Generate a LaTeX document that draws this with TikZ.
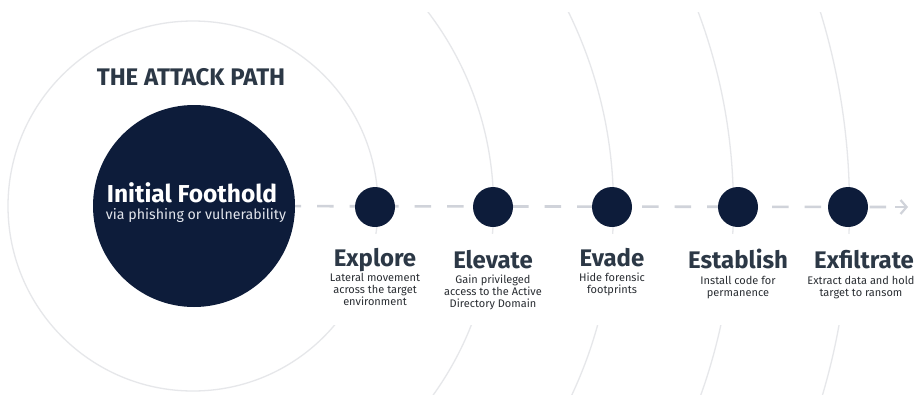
\documentclass[tikz,border=0pt]{standalone}
\usepackage{fontspec}
\setmainfont{Fira Sans}
\usetikzlibrary{arrows.meta,backgrounds}
\definecolor{navy}{HTML}{0D1C3A}
\definecolor{slate}{HTML}{2C3846}
\definecolor{arcgray}{HTML}{E6E7EA}
\definecolor{dashgray}{HTML}{D0D3DA}
\definecolor{desccol}{HTML}{2A2E33}
\definecolor{subcol}{HTML}{E2E5EC}
\tikzset{
  arcline/.style={draw=arcgray, line width=1.3pt},
  flowdash/.style={draw=dashgray, line width=2.6pt, dash pattern=on 16.5pt off 16pt, dash phase=7pt},
  flowarrow/.style={draw=dashgray, line width=2.6pt, -{Straight Barb[length=6pt,width=14pt,line width=2.2pt]}},
  stepdot/.style={circle, fill=navy, minimum size=40pt, inner sep=0pt},
  bigdot/.style={circle, fill=navy, minimum size=202pt, inner sep=0pt},
  steptitle/.style={anchor=base, text=slate, font=\fontsize{24}{28}\selectfont\bfseries, inner sep=0pt},
  stepdesc/.style={anchor=base, text=desccol, align=center, font=\fontsize{11}{12}\selectfont, inner sep=0pt},
  headtitle/.style={anchor=base, text=slate, font=\fontsize{24}{28}\selectfont\bfseries, inner sep=0pt},
  foottitle/.style={anchor=base, text=white, font=\fontsize{24.5}{28}\selectfont\bfseries, inner sep=0pt},
  footsub/.style={anchor=base, text=subcol, font=\fontsize{14.2}{16}\selectfont, inner sep=0pt},
}
\begin{document}
\begin{tikzpicture}[x=1pt,y=-1pt]
\useasboundingbox (0,0) rectangle (916,394);
% nodes
\node[bigdot] (foot) at (194,206) {};
\node[stepdot] (s1) at (375,207) {};
\node[stepdot] (s2) at (493,207) {};
\node[stepdot] (s3) at (612,207) {};
\node[stepdot] (s4) at (738,207) {};
\node[stepdot] (s5) at (848,207) {};
\coordinate (lineend) at (886,207);
\coordinate (arrstart) at (895,207);
\coordinate (arrtip) at (908,207);
\begin{pgfonlayer}{background}
\fill[white] (0,0) rectangle (916,394);
\begin{scope}
\clip (0,12) rectangle (916,394);
\draw[arcline] (193,206) circle[radius=185];
\draw[arcline] (171,207) circle[radius=322.6];
\draw[arcline] (170,207) circle[radius=443.5];
\draw[arcline] (178,207) circle[radius=555.4];
\draw[arcline] (186,207) circle[radius=663.5];
\end{scope}
\fill[white] (320,234) rectangle (916,325);
\draw[flowdash] (foot.center) -- (lineend);
\end{pgfonlayer}
\draw[flowarrow] (arrstart) -- (arrtip);
% texts
\node[headtitle] (head) at (191,85) {THE ATTACK PATH};
\node[foottitle] (ft) at (192,202) {Initial Foothold};
\node[footsub] (fs) at (196,219) {via phishing or vulnerability};
\node[steptitle] (t1) at (375,266) {Explore};
\node[steptitle] (t2) at (493,268) {Elevate};
\node[steptitle] (t3) at (612,266) {Evade};
\node[steptitle] (t4) at (738,268) {Establish};
\node[steptitle] (t5) at (864,268) {Exfiltrate};
\node[stepdesc] (d1) at (375,305) {Lateral movement\\across the target\\environment};
\node[stepdesc] (d2) at (493,307) {Gain privileged\\access to the Active\\Directory Domain};
\node[stepdesc] (d3) at (612,293) {Hide forensic\\footprints};
\node[stepdesc] (d4) at (738,296) {Install code for\\permanence};
\node[stepdesc] (d5) at (861,296) {Extract data and hold\\target to ransom};
\end{tikzpicture}
\end{document}
